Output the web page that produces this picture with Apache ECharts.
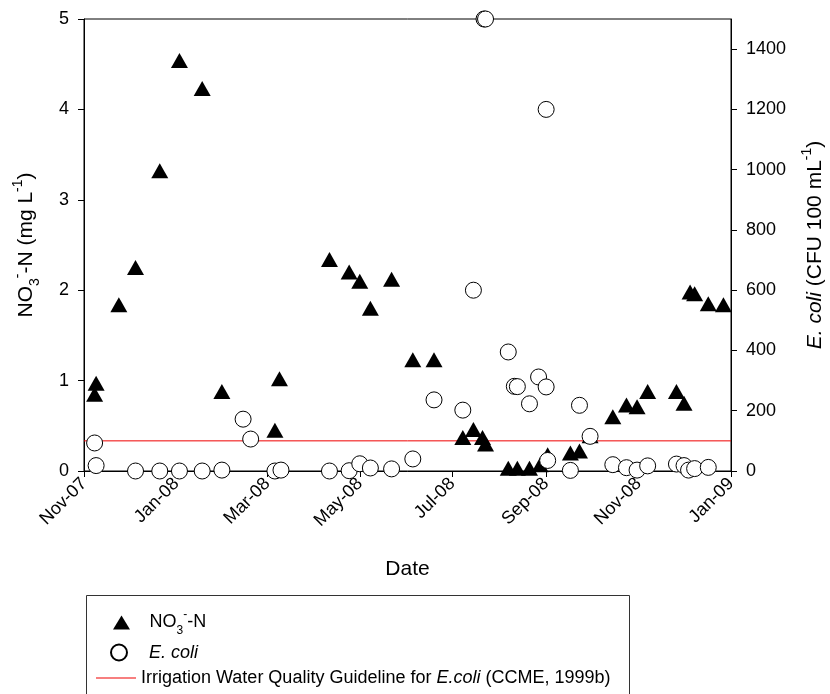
<!DOCTYPE html>
<html>
<head>
<meta charset="utf-8">
<script src="https://cdn.jsdelivr.net/npm/echarts@6/dist/echarts.min.js"></script>
<style>
  html, body { margin: 0; padding: 0; background: #fff; }
  #chart { width: 830px; height: 694px; }
</style>
</head>
<body>
<div id="chart"></div>
<script>
// NO3--N (mg/L), left axis
var no3Dates = ['2007-11-08','2007-11-09','2007-11-24','2007-12-05','2007-12-21','2008-01-03','2008-01-18','2008-01-31',
  '2008-03-06','2008-03-09','2008-04-11','2008-04-24','2008-05-01','2008-05-08','2008-05-22','2008-06-05','2008-06-19',
  '2008-07-08','2008-07-15','2008-07-21','2008-07-23','2008-08-07','2008-08-13','2008-08-21','2008-08-28','2008-09-02',
  '2008-09-17','2008-09-23','2008-09-30','2008-10-15','2008-10-24','2008-10-31','2008-11-07','2008-11-26','2008-12-01',
  '2008-12-05','2008-12-08','2008-12-17','2008-12-27'];
var no3Values = [0.85, 0.97, 1.84, 2.25, 3.32, 4.54, 4.23, 0.88,
  0.45, 1.02, 2.34, 2.20, 2.10, 1.80, 2.12, 1.23, 1.23,
  0.37, 0.46, 0.37, 0.30, 0.03, 0.03, 0.03, 0.07, 0.18,
  0.20, 0.22, 0.39, 0.60, 0.73, 0.71, 0.88, 0.88, 0.75,
  1.98, 1.96, 1.85, 1.84];

// E. coli (CFU/100 mL), right axis
var ecoliDates = ['2007-11-08','2007-11-09','2007-12-05','2007-12-21','2008-01-03','2008-01-18','2008-01-31','2008-02-14',
  '2008-02-19','2008-03-06','2008-03-10','2008-04-11','2008-04-24','2008-05-01','2008-05-08','2008-05-22','2008-06-05',
  '2008-06-19','2008-07-08','2008-07-15','2008-07-22','2008-07-23','2008-08-07','2008-08-11','2008-08-13','2008-08-21',
  '2008-08-27','2008-09-01','2008-09-01','2008-09-02','2008-09-17','2008-09-23','2008-09-30','2008-10-15','2008-10-24',
  '2008-10-31','2008-11-07','2008-11-26','2008-12-01','2008-12-04','2008-12-08','2008-12-17'];
var ecoliValues = [93, 18, 0, 0, 0, 0, 3, 172,
  106, 0, 3, 0, 1, 24, 10, 7, 40,
  236, 202, 600, 1500, 1500, 395, 281, 280, 223,
  312, 1200, 279, 35, 2, 218, 115, 21, 11,
  3, 17, 23, 18, 3, 8, 12];

// guideline
var guideDates = ['2007-11-01', '2009-01-01'];
var guideValue = 100;

var monthTicks = ['2007-11-01','2008-01-01','2008-03-01','2008-05-01','2008-07-01','2008-09-01','2008-11-01','2009-01-01'];
var monthNames = ['Jan','Feb','Mar','Apr','May','Jun','Jul','Aug','Sep','Oct','Nov','Dec'];
var ecoliTicks = [0, 200, 400, 600, 800, 1000, 1200, 1400];

function ts(s) {
  var p = s.split('-');
  return Date.UTC(+p[0], +p[1] - 1, +p[2]);
}

var FONT = 'Liberation Sans';
var nameRich = {
  a: { fontSize: 21, color: '#000', fontFamily: FONT },
  i: { fontSize: 21, color: '#000', fontFamily: FONT, fontStyle: 'italic' },
  sub: { fontSize: 14, color: '#000', fontFamily: FONT, verticalAlign: 'bottom', padding: [0, 0, -5, 0] },
  sup: { fontSize: 14, color: '#000', fontFamily: FONT, verticalAlign: 'top', padding: [-5, 0, 0, 0] }
};
var legRich = {
  a: { fontSize: 18, color: '#000', fontFamily: FONT },
  i: { fontSize: 18, color: '#000', fontFamily: FONT, fontStyle: 'italic' },
  sub: { fontSize: 12, color: '#000', fontFamily: FONT, verticalAlign: 'bottom', padding: [0, 0, -5, 0] },
  sup: { fontSize: 12, color: '#000', fontFamily: FONT, verticalAlign: 'top', padding: [-5, 0, 0, 0] }
};

var nameNo3 = 'NO3-N';
var nameEcoli = 'E. coli';
var nameGuide = 'Irrigation Water Quality Guideline for E.coli (CCME, 1999b)';

function legendText(n) {
  if (n === nameNo3) return '{a|NO}{sub|3}{sup|-}{a|-N}';
  if (n === nameEcoli) return '{i|E. coli}';
  return '{a|Irrigation Water Quality Guideline for }{i|E.coli}{a| (CCME, 1999b)}';
}

function oneLegend(name, icon, left, top, w, h) {
  return {
    orient: 'vertical', left: left, top: top, padding: 0,
    itemWidth: w, itemHeight: h,
    data: [{ name: name, icon: icon }],
    textStyle: { rich: legRich },
    formatter: legendText
  };
}

var chart = echarts.init(document.getElementById('chart'));
var option = {
  backgroundColor: '#fff',
  animation: false,
  textStyle: { fontFamily: FONT, color: '#000' },
  grid: {
    left: 84, right: 99, top: 19, bottom: 223,
    outerBoundsMode: 'none', containLabel: false,
    show: true, borderColor: '#000', borderWidth: 1
  },
  graphic: [{
    type: 'rect',
    shape: { x: 86.5, y: 595.5, width: 543, height: 130 },
    style: { fill: 'none', stroke: '#333', lineWidth: 1 },
    silent: true
  }],
  legend: [
    oneLegend(nameNo3, 'path://M8.5,0L17,14L0,14Z', 113, 608.5, 46, 14),
    oneLegend(nameEcoli, 'circle', 110, 643.5, 50, 16),
    oneLegend(nameGuide, 'path://M0,0H40V1.2H0Z', 96, 669, 40, 14)
  ],
  xAxis: {
    type: 'value',
    min: ts(monthTicks[0]),
    max: ts(monthTicks[monthTicks.length - 1]),
    name: 'Date',
    nameLocation: 'middle',
    nameGap: 88,
    nameTextStyle: { fontSize: 21, color: '#000' },
    axisLine: { lineStyle: { color: '#000', width: 1 } },
    axisTick: { show: true, length: 6, customValues: monthTicks.map(ts), lineStyle: { color: '#000' } },
    axisLabel: {
      rotate: 45,
      fontSize: 18,
      color: '#000',
      margin: 10,
      customValues: monthTicks.map(ts),
      formatter: function (v) {
        var d = new Date(v);
        return monthNames[d.getUTCMonth()] + '-' + String(d.getUTCFullYear()).slice(2);
      }
    },
    splitLine: { show: false }
  },
  yAxis: [
    {
      type: 'value',
      min: 0,
      max: 5,
      interval: 1,
      position: 'left',
      name: '{a|NO}{sub|3}{sup|-}{a|-N (mg L}{sup|-1}{a|)}',
      nameLocation: 'middle',
      nameRotate: 90,
      nameGap: 47,
      nameTextStyle: { rich: nameRich },
      axisLine: { show: true, lineStyle: { color: '#000', width: 1 } },
      axisTick: { show: true, length: 6, lineStyle: { color: '#000' } },
      axisLabel: { fontSize: 18, color: '#000', margin: 15 },
      splitLine: { show: false }
    },
    {
      type: 'value',
      min: 0,
      max: 1500,
      interval: 200,
      position: 'right',
      name: '{i|E. coli}{a| (CFU 100 mL}{sup|-1}{a|)}',
      nameLocation: 'middle',
      nameRotate: 90,
      nameGap: 74,
      nameTextStyle: { rich: nameRich },
      axisLine: { show: true, lineStyle: { color: '#000', width: 1 } },
      axisTick: { show: true, length: 6, customValues: ecoliTicks, lineStyle: { color: '#000' } },
      axisLabel: {
        fontSize: 18, color: '#000', margin: 15, customValues: ecoliTicks,
        formatter: function (v) { return String(v); }
      },
      splitLine: { show: false }
    }
  ],
  series: [
    {
      name: nameGuide,
      type: 'line',
      yAxisIndex: 1,
      symbol: 'none',
      lineStyle: { color: '#f00000', width: 1 },
      itemStyle: { color: '#f00000' },
      data: guideDates.map(function (d) { return [ts(d), guideValue]; }),
      z: 1
    },
    {
      name: nameNo3,
      type: 'scatter',
      yAxisIndex: 0,
      symbol: 'triangle',
      symbolSize: [17, 15],
      itemStyle: { color: '#000', opacity: 1 },
      data: no3Dates.map(function (d, i) { return [ts(d), no3Values[i]]; }),
      z: 2
    },
    {
      name: nameEcoli,
      type: 'scatter',
      yAxisIndex: 1,
      symbol: 'circle',
      symbolSize: 16,
      itemStyle: { color: '#fff', borderColor: '#000', borderWidth: 1, opacity: 1 },
      data: ecoliDates.map(function (d, i) { return [ts(d), ecoliValues[i]]; }),
      z: 3
    }
  ]
};
chart.setOption(option);
</script>
</body>
</html>
